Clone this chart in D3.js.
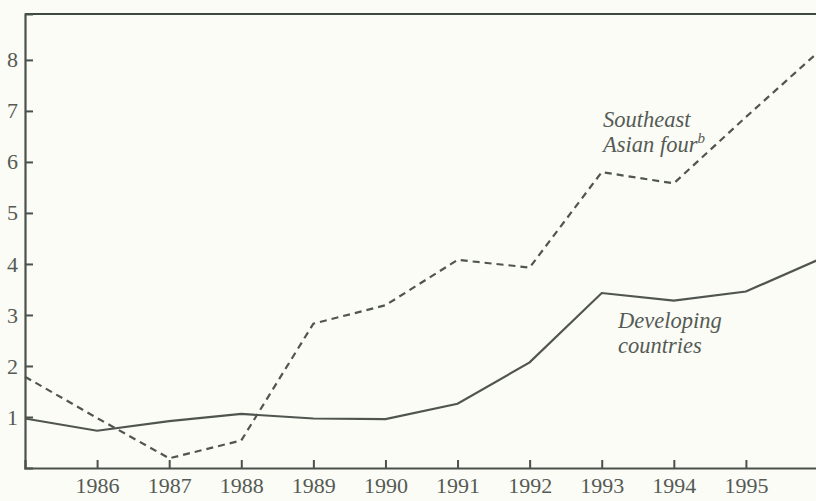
<!DOCTYPE html>
<html>
<head>
<meta charset="utf-8">
<script src="https://cdn.jsdelivr.net/npm/d3@7"></script>
<style>
  html, body { margin: 0; padding: 0; background: #fbfcf6; }
  svg { display: block; }
  text { font-family: "Liberation Serif", "DejaVu Serif", serif; }
</style>
</head>
<body>
<svg id="chart" width="816" height="501"></svg>
<script>
const years = [1985, 1986, 1987, 1988, 1989, 1990, 1991, 1992, 1993, 1994, 1995, 1996];
const developing = [0.97, 0.73, 0.92, 1.06, 0.97, 0.96, 1.26, 2.07, 3.43, 3.28, 3.46, 4.08];
const seAsianFour = [1.79, 0.98, 0.19, 0.54, 2.83, 3.19, 4.08, 3.93, 5.80, 5.58, 6.88, 8.15];
const xTickValues = [1986, 1987, 1988, 1989, 1990, 1991, 1992, 1993, 1994, 1995];
const yTickValues = [1, 2, 3, 4, 5, 6, 7, 8];

(function () {
const svg = d3.select("#chart");
const W = 816, H = 501;
const mLeft = 25, mRight = 818, mTop = 14, mBottom = 468;

svg.append("rect").attr("width", W).attr("height", H).attr("fill", "#fbfcf6");

const x = d3.scaleLinear().domain([1985, 1996]).range([mLeft, mRight]);
const y = d3.scaleLinear().domain([0, 8.9]).range([mBottom, mTop]);

const axisColor = "#4b514b";
const textColor = "#555a55";

// top frame line
svg.append("line")
  .attr("x1", mLeft).attr("x2", W)
  .attr("y1", y(8.9)).attr("y2", y(8.9))
  .attr("stroke", "#3e4a3e").attr("stroke-width", 2.2);

// y axis
const yAxis = svg.append("g")
  .attr("transform", `translate(${mLeft},0)`)
  .call(d3.axisLeft(y).tickValues(yTickValues).tickSize(-8).tickPadding(7).tickFormat(d3.format("d")));
yAxis.select(".domain").attr("stroke", axisColor).attr("stroke-width", 2.2);
yAxis.selectAll(".tick line").attr("stroke", axisColor).attr("stroke-width", 2);
yAxis.selectAll(".tick text")
  .attr("fill", textColor).attr("font-size", 22)
  .attr("font-family", "Liberation Serif, serif");

// x axis
const xAxis = svg.append("g")
  .attr("transform", `translate(0,${mBottom})`)
  .call(d3.axisBottom(x).tickValues(xTickValues).tickSize(-8).tickPadding(9).tickFormat(d3.format("d")));
xAxis.select(".domain").attr("stroke", axisColor).attr("stroke-width", 2.2);
xAxis.selectAll(".tick line").attr("stroke", axisColor).attr("stroke-width", 2);
xAxis.selectAll(".tick text")
  .attr("fill", textColor).attr("font-size", 22)
  .attr("font-family", "Liberation Serif, serif");

const line = d3.line().x((d, i) => x(years[i])).y(d => y(d));

svg.append("path")
  .datum(developing)
  .attr("d", line)
  .attr("fill", "none")
  .attr("stroke", "#505550")
  .attr("stroke-width", 2.2);

svg.append("path")
  .datum(seAsianFour)
  .attr("d", line)
  .attr("fill", "none")
  .attr("stroke", "#505550")
  .attr("stroke-width", 2.2)
  .attr("stroke-dasharray", "7,5");

// labels
function label(txt, lx, ly) {
  return svg.append("text")
    .attr("x", lx).attr("y", ly)
    .attr("font-size", 22.5).attr("font-style", "italic").attr("fill", textColor)
    .text(txt);
}
label("Southeast", 603, 127);
const asian = label("Asian four", 603, 152);
asian.append("tspan").attr("dy", -9).attr("font-size", 15).text("b");
label("Developing", 618, 328);
label("countries", 618, 353);
})();
</script>
</body>
</html>
